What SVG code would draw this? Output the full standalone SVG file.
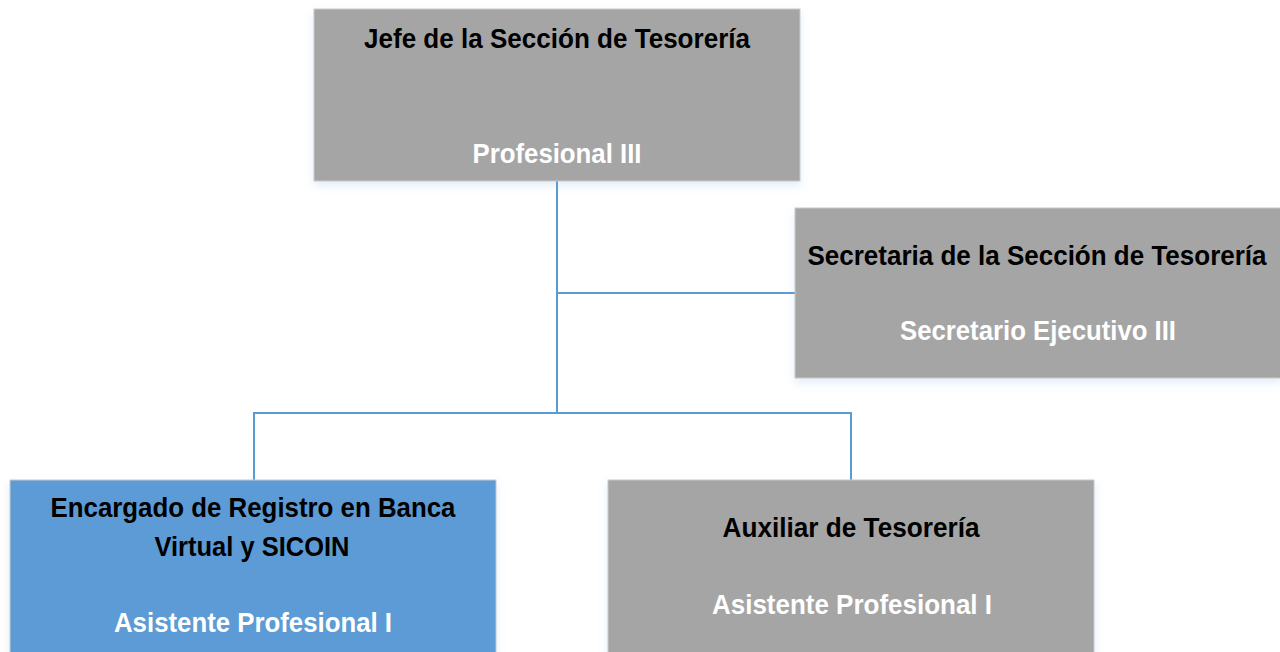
<svg xmlns="http://www.w3.org/2000/svg" width="1280" height="652" viewBox="0 0 1280 652">
<style>
.box{stroke:#c9c9c9;stroke-width:1;filter:url(#sh)}
.gray{fill:#a5a5a5}
.blue{fill:#5b9bd5}
.t{font-family:"Liberation Sans",Arial,sans-serif;font-weight:bold;font-size:28px;text-anchor:middle}
.k{fill:#000}
.w{fill:#fff}
.conn{stroke:#5b9bd5;stroke-width:2;fill:none}
</style>
<defs>
<filter id="sh" x="-5%" y="-5%" width="110%" height="120%">
<feDropShadow dx="0" dy="4" stdDeviation="4" flood-color="#5b9bd5" flood-opacity="0.18"/>
</filter>
</defs>
<rect width="1280" height="652" fill="#fff"/>
<g id="connectors">
<path class="conn" d="M557 181 V413"/>
<path class="conn" d="M557 293 H795"/>
<path class="conn" d="M254 480 V413 H851 V480"/>
</g>
<g id="jefe">
<rect class="box gray" x="314" y="9" width="486" height="172"/>
<text class="t k" x="557" y="48" textLength="386" lengthAdjust="spacingAndGlyphs">Jefe de la Sección de Tesorería</text>
<text class="t w" x="557" y="163" textLength="169" lengthAdjust="spacingAndGlyphs">Profesional III</text>
</g>
<g id="secretaria">
<rect class="box gray" x="795" y="208" width="486" height="170"/>
<text class="t k" transform="translate(1037 265) scale(0.85 1)" x="0" y="0" textLength="540" lengthAdjust="spacingAndGlyphs">Secretaria de la Sección de Tesorería</text>
<text class="t w" x="1038" y="340" textLength="276" lengthAdjust="spacingAndGlyphs">Secretario Ejecutivo III</text>
</g>
<g id="encargado">
<rect class="box blue" x="10" y="480" width="486" height="175"/>
<text class="t k" x="253" y="517" textLength="405" lengthAdjust="spacingAndGlyphs">Encargado de Registro en Banca</text>
<text class="t k" x="252" y="556" textLength="195" lengthAdjust="spacingAndGlyphs">Virtual y SICOIN</text>
<text class="t w" x="253" y="632" textLength="278" lengthAdjust="spacingAndGlyphs">Asistente Profesional I</text>
</g>
<g id="auxiliar">
<rect class="box gray" x="608" y="480" width="486" height="175"/>
<text class="t k" x="851" y="537" textLength="257" lengthAdjust="spacingAndGlyphs">Auxiliar de Tesorería</text>
<text class="t w" x="852" y="614" textLength="280" lengthAdjust="spacingAndGlyphs">Asistente Profesional I</text>
</g>
</svg>
